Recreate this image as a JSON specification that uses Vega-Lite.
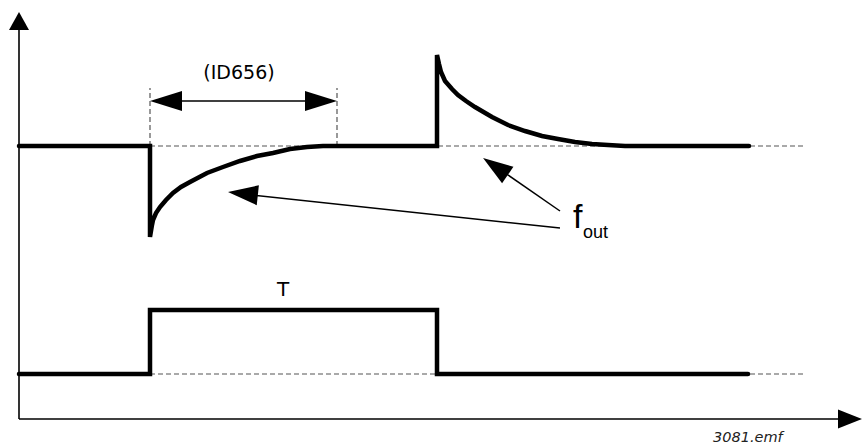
{
  "$schema": "https://vega.github.io/schema/vega-lite/v6.json",
  "width": 862,
  "height": 445,
  "autosize": {"type": "none"},
  "padding": 0,
  "background": "white",
  "config": {"view": {"stroke": null}},
  "datasets": {
    "signals": [
      {"series": "fout", "i": 0, "x": 0, "y": 27.3},
      {"series": "fout", "i": 1, "x": 13.1, "y": 27.3},
      {"series": "fout", "i": 2, "x": 13.1, "y": 18.2},
      {"series": "fout", "i": 3, "x": 13.3, "y": 19.4},
      {"series": "fout", "i": 4, "x": 13.4, "y": 19.9},
      {"series": "fout", "i": 5, "x": 13.7, "y": 20.6},
      {"series": "fout", "i": 6, "x": 14.1, "y": 21.2},
      {"series": "fout", "i": 7, "x": 14.7, "y": 21.9},
      {"series": "fout", "i": 8, "x": 15.4, "y": 22.6},
      {"series": "fout", "i": 9, "x": 16.2, "y": 23.2},
      {"series": "fout", "i": 10, "x": 17.1, "y": 23.7},
      {"series": "fout", "i": 11, "x": 18.8, "y": 24.6},
      {"series": "fout", "i": 12, "x": 20.4, "y": 25.2},
      {"series": "fout", "i": 13, "x": 22.1, "y": 25.8},
      {"series": "fout", "i": 14, "x": 23.8, "y": 26.3},
      {"series": "fout", "i": 15, "x": 25.4, "y": 26.6},
      {"series": "fout", "i": 16, "x": 27.1, "y": 27.0},
      {"series": "fout", "i": 17, "x": 28.8, "y": 27.2},
      {"series": "fout", "i": 18, "x": 30.4, "y": 27.3},
      {"series": "fout", "i": 19, "x": 41.8, "y": 27.3},
      {"series": "fout", "i": 20, "x": 41.8, "y": 36.4},
      {"series": "fout", "i": 21, "x": 42.0, "y": 35.5},
      {"series": "fout", "i": 22, "x": 42.2, "y": 34.7},
      {"series": "fout", "i": 23, "x": 42.6, "y": 33.8},
      {"series": "fout", "i": 24, "x": 43.3, "y": 33.0},
      {"series": "fout", "i": 25, "x": 43.9, "y": 32.4},
      {"series": "fout", "i": 26, "x": 44.7, "y": 31.8},
      {"series": "fout", "i": 27, "x": 45.6, "y": 31.2},
      {"series": "fout", "i": 28, "x": 47.3, "y": 30.2},
      {"series": "fout", "i": 29, "x": 48.9, "y": 29.4},
      {"series": "fout", "i": 30, "x": 50.6, "y": 28.8},
      {"series": "fout", "i": 31, "x": 52.3, "y": 28.3},
      {"series": "fout", "i": 32, "x": 53.9, "y": 28.0},
      {"series": "fout", "i": 33, "x": 55.6, "y": 27.7},
      {"series": "fout", "i": 34, "x": 57.3, "y": 27.5},
      {"series": "fout", "i": 35, "x": 58.9, "y": 27.4},
      {"series": "fout", "i": 36, "x": 60.6, "y": 27.3},
      {"series": "fout", "i": 37, "x": 73.0, "y": 27.3},
      {"series": "T", "i": 0, "x": 0, "y": 4.5},
      {"series": "T", "i": 1, "x": 13.1, "y": 4.5},
      {"series": "T", "i": 2, "x": 13.1, "y": 10.9},
      {"series": "T", "i": 3, "x": 41.8, "y": 10.9},
      {"series": "T", "i": 4, "x": 41.8, "y": 4.5},
      {"series": "T", "i": 5, "x": 72.9, "y": 4.5}
    ],
    "segments": [
      {"kind": "axis", "x": 0, "y": 0, "x2": 0, "y2": 39.4},
      {"kind": "axis", "x": 0, "y": 0, "x2": 82.6, "y2": 0},
      {"kind": "dash", "x": 13.1, "y": 27.3, "x2": 78.4, "y2": 27.3},
      {"kind": "dash", "x": 13.1, "y": 4.5, "x2": 78.4, "y2": 4.5},
      {"kind": "dash", "x": 13.1, "y": 27.3, "x2": 13.1, "y2": 33.1},
      {"kind": "dash", "x": 31.8, "y": 27.3, "x2": 31.8, "y2": 33.1},
      {"kind": "thin", "x": 14.0, "y": 31.8, "x2": 31.0, "y2": 31.8},
      {"kind": "thin", "x": 54.1, "y": 19.1, "x2": 22.4, "y2": 22.5},
      {"kind": "thin", "x": 54.1, "y": 20.8, "x2": 47.6, "y2": 25.3}
    ],
    "arrowheads": [
      {"kind": "yaxis", "x": 0, "y": 39.8, "dir": 270},
      {"kind": "xaxis", "x": 83.1, "y": 0, "dir": 0},
      {"kind": "dim", "x": 14.7, "y": 31.8, "dir": 180},
      {"kind": "dim", "x": 30.2, "y": 31.8, "dir": 0},
      {"kind": "leader", "x": 22.39, "y": 22.54, "dir": 186.2},
      {"kind": "leader", "x": 47.64, "y": 25.25, "dir": 214.5}
    ]
  },
  "encoding": {
    "x": {"field": "x", "type": "quantitative", "scale": {"domain": [-1.9, 84.3], "nice": false, "zero": false}, "axis": null},
    "y": {"field": "y", "type": "quantitative", "scale": {"domain": [-2.6, 41.9], "nice": false, "zero": false}, "axis": null}
  },
  "layer": [
    {
      "data": {"name": "segments"},
      "transform": [{"filter": "datum.kind === 'dash'"}],
      "mark": {"type": "rule", "color": "#555555", "strokeWidth": 1.2, "strokeDash": [5, 3]},
      "encoding": {"x2": {"field": "x2"}, "y2": {"field": "y2"}}
    },
    {
      "data": {"name": "segments"},
      "transform": [{"filter": "datum.kind === 'axis'"}],
      "mark": {"type": "rule", "color": "black", "strokeWidth": 1.6},
      "encoding": {"x2": {"field": "x2"}, "y2": {"field": "y2"}}
    },
    {
      "data": {"name": "segments"},
      "transform": [{"filter": "datum.kind === 'thin'"}],
      "mark": {"type": "rule", "color": "black", "strokeWidth": 1.5},
      "encoding": {"x2": {"field": "x2"}, "y2": {"field": "y2"}}
    },
    {
      "data": {"name": "signals"},
      "mark": {"type": "line", "color": "black", "strokeWidth": 4.5, "strokeCap": "round", "strokeJoin": "miter", "interpolate": "linear"},
      "encoding": {
        "detail": {"field": "series", "type": "nominal"},
        "order": {"field": "i", "type": "quantitative"}
      }
    },
    {
      "data": {"name": "arrowheads"},
      "transform": [{"filter": "datum.kind === 'yaxis'"}],
      "mark": {"type": "point", "filled": true, "color": "black", "opacity": 1, "strokeWidth": 0, "size": 324, "shape": "M1,0L-1,-1.11L-1,1.11Z"},
      "encoding": {"angle": {"field": "dir", "type": "quantitative", "scale": null}}
    },
    {
      "data": {"name": "arrowheads"},
      "transform": [{"filter": "datum.kind === 'xaxis'"}],
      "mark": {"type": "point", "filled": true, "color": "black", "opacity": 1, "strokeWidth": 0, "size": 576, "shape": "M1,0L-1,-0.79L-1,0.79Z"},
      "encoding": {"angle": {"field": "dir", "type": "quantitative", "scale": null}}
    },
    {
      "data": {"name": "arrowheads"},
      "transform": [{"filter": "datum.kind === 'dim'"}],
      "mark": {"type": "point", "filled": true, "color": "black", "opacity": 1, "strokeWidth": 0, "size": 1024, "shape": "M1,0L-1,-0.625L-1,0.625Z"},
      "encoding": {"angle": {"field": "dir", "type": "quantitative", "scale": null}}
    },
    {
      "data": {"name": "arrowheads"},
      "transform": [{"filter": "datum.kind === 'leader'"}],
      "mark": {"type": "point", "filled": true, "color": "black", "opacity": 1, "strokeWidth": 0, "size": 900, "shape": "M1,0L-1,-0.667L-1,0.667Z"},
      "encoding": {"angle": {"field": "dir", "type": "quantitative", "scale": null}}
    },
    {
      "data": {"values": [{"x": 22.0, "y": 34.65, "label": "(ID656)"}]},
      "mark": {"type": "text", "font": "DejaVu Sans", "fontSize": 19, "color": "black", "align": "center", "baseline": "middle"},
      "encoding": {"text": {"field": "label"}}
    },
    {
      "data": {"values": [{"x": 26.4, "y": 12.9, "label": "T"}]},
      "mark": {"type": "text", "font": "DejaVu Sans", "fontSize": 20, "color": "black", "align": "center", "baseline": "middle"},
      "encoding": {"text": {"field": "label"}}
    },
    {
      "data": {"values": [{"x": 55.4, "y": 19.1, "label": "f"}]},
      "mark": {"type": "text", "font": "Liberation Sans", "fontSize": 34, "color": "black", "align": "left", "baseline": "alphabetic"},
      "encoding": {"text": {"field": "label"}}
    },
    {
      "data": {"values": [{"x": 56.4, "y": 18.1, "label": "out"}]},
      "mark": {"type": "text", "font": "Liberation Sans", "fontSize": 18, "color": "black", "align": "left", "baseline": "alphabetic"},
      "encoding": {"text": {"field": "label"}}
    },
    {
      "data": {"values": [{"x": 69.4, "y": -2.25, "label": "3081.emf"}]},
      "mark": {"type": "text", "font": "DejaVu Sans", "fontSize": 14.5, "fontStyle": "italic", "color": "#222222", "align": "left", "baseline": "alphabetic"},
      "encoding": {"text": {"field": "label"}}
    }
  ]
}
